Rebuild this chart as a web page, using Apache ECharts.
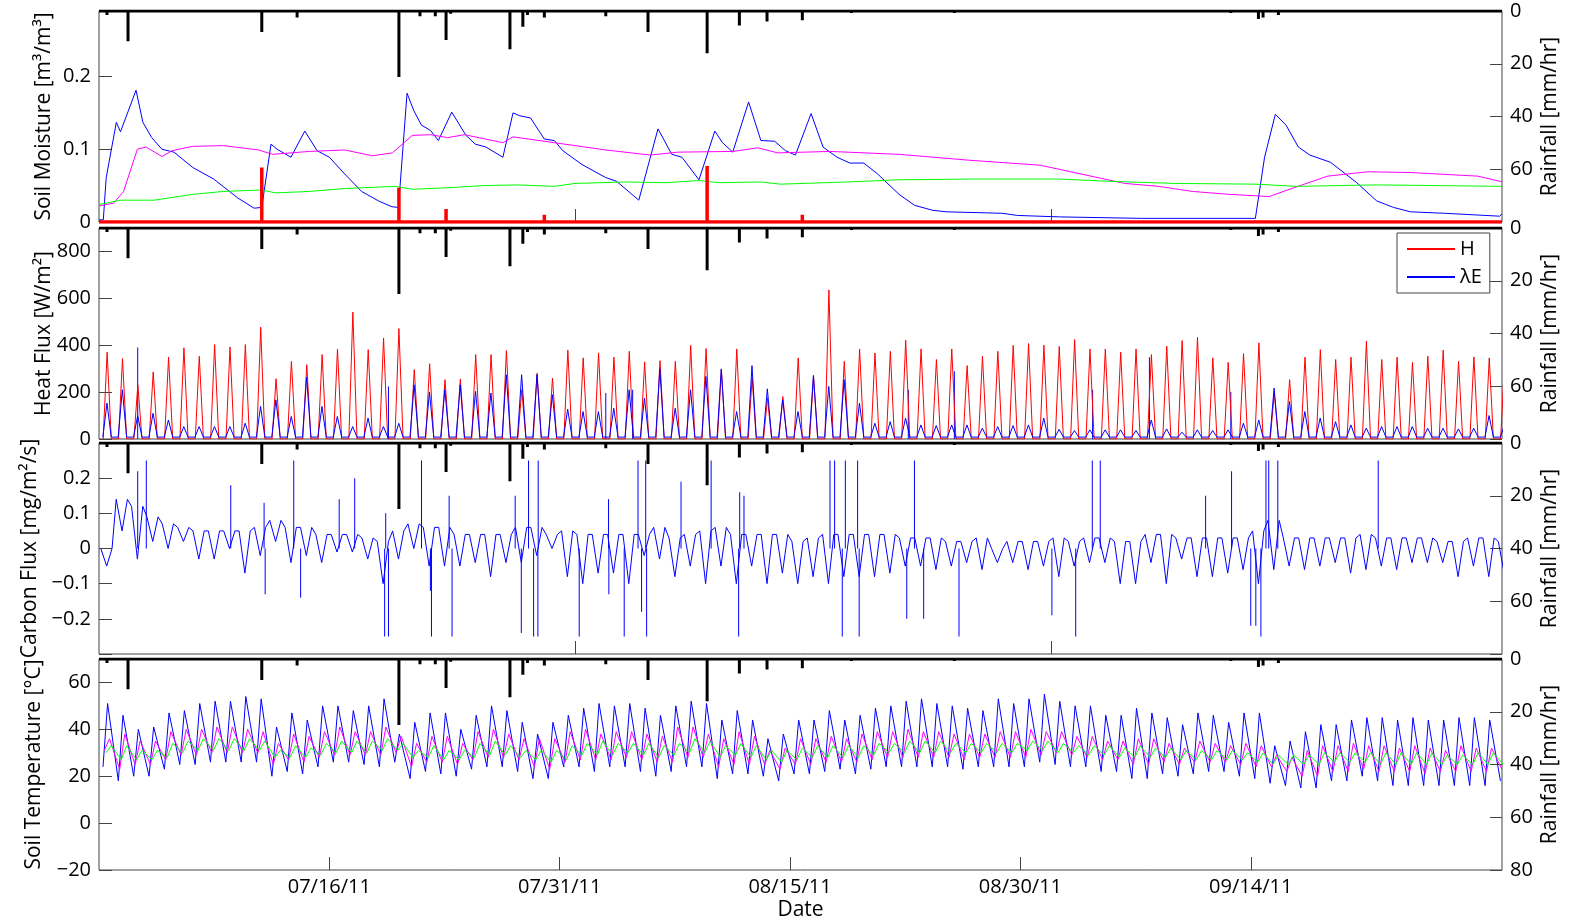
<!DOCTYPE html>
<html>
<head>
<meta charset="utf-8">
<script src="https://cdn.jsdelivr.net/npm/echarts@6/dist/echarts.min.js"></script>
<style>
html, body { margin: 0; padding: 0; background: #fff; }
#main { width: 1569px; height: 924px; }
</style>
</head>
<body>
<div id="main"></div>
<script>
// x values are days counted from 07/01/11 00:00
const X_MAX = 91.36;
const DATE_TICKS = [15, 30, 45, 60, 75];
const MONTH_TICKS = [31, 62];

// rainfall events [day, mm/hr] (drawn from the top, right axis)
const rain = [
  [0.52, 1.5], [1.89, 11.5], [10.6, 8], [12.9, 2.5], [19.53, 25], [20.9, 2], [21.9, 2],
  [22.6, 11], [22.9, 1], [26.76, 14.5], [27.6, 6], [27.9, 1.5], [29.0, 2.5], [33.0, 2],
  [35.75, 8], [39.6, 16], [41.7, 5.5], [43.5, 4], [45.8, 3.5], [49.0, 0.8], [55.7, 0.8],
  [73.7, 0.8], [75.5, 3], [75.8, 2.5], [76.8, 1.5], [83.7, 0.5]
];

// red bars in the soil moisture panel [day, m3/m3]
const irrigation = [
  [10.6, 0.075], [19.53, 0.047], [22.6, 0.018], [29.0, 0.010], [39.6, 0.077], [43.5, 0.002], [45.8, 0.010]
];

// soil moisture [day, m3/m3]
const smBlue = [
  [0, 0.003], [0.28, 0.003], [0.47, 0.061], [1.13, 0.137], [1.4, 0.124], [2.41, 0.181], [2.86, 0.137],
  [3.43, 0.116], [4.1, 0.1], [4.88, 0.096], [6.1, 0.075], [7.47, 0.059], [9.04, 0.033], [10.1, 0.019],
  [10.6, 0.02], [11.2, 0.107], [11.6, 0.1], [12.5, 0.089], [13.4, 0.125], [14.2, 0.098], [15.0, 0.089],
  [16.0, 0.066], [17.1, 0.042], [18.2, 0.029], [19.07, 0.021], [19.5, 0.02], [20.06, 0.177], [20.5, 0.153],
  [21.0, 0.133], [21.58, 0.126], [22.1, 0.112], [22.97, 0.151], [23.9, 0.119], [24.5, 0.107], [25.2, 0.103],
  [26.3, 0.089], [26.96, 0.15], [27.4, 0.146], [28.1, 0.143], [29.0, 0.114], [29.65, 0.112], [30.2, 0.098],
  [31.45, 0.079], [33.0, 0.061], [33.7, 0.056], [35.15, 0.03], [36.4, 0.128], [37.3, 0.093], [37.96, 0.089],
  [39.07, 0.058], [40.1, 0.125], [40.6, 0.109], [41.27, 0.096], [42.3, 0.165], [43.1, 0.112], [44.0, 0.111],
  [44.7, 0.098], [45.35, 0.092], [46.37, 0.149], [47.15, 0.103], [48.06, 0.089], [48.9, 0.081], [49.8, 0.081],
  [50.7, 0.066], [52.1, 0.038], [53.1, 0.023], [54.3, 0.016], [55.2, 0.014], [58.8, 0.012], [59.8, 0.009],
  [62.6, 0.007], [67.9, 0.005], [75.3, 0.005], [75.9, 0.089], [76.6, 0.148], [77.3, 0.133], [78.1, 0.103],
  [78.85, 0.092], [80.2, 0.082], [81.9, 0.054], [83.2, 0.029], [84.3, 0.02], [85.4, 0.014], [87.6, 0.012],
  [91.2, 0.008], [91.36, 0.011]
];
const smMagenta = [
  [0, 0.022], [0.96, 0.026], [1.6, 0.042], [2.5, 0.1], [3.07, 0.103], [4.1, 0.09], [4.76, 0.098], [6.1, 0.104],
  [8.1, 0.105], [10.4, 0.099], [11.3, 0.093], [13.7, 0.097], [16.0, 0.099], [17.8, 0.091], [19.1, 0.095],
  [20.4, 0.119], [21.6, 0.12], [22.7, 0.116], [23.8, 0.12], [26.3, 0.109], [26.96, 0.117], [29.65, 0.109],
  [33, 0.099], [35.9, 0.092], [37.7, 0.096], [41.3, 0.097], [42.9, 0.102], [44.2, 0.095], [47.6, 0.097],
  [52.1, 0.093], [56.6, 0.085], [61.3, 0.078], [64.6, 0.063], [66.8, 0.053], [69, 0.049], [71.2, 0.042],
  [73.6, 0.038], [76.2, 0.035], [77.8, 0.047], [80, 0.063], [82.6, 0.069], [85.4, 0.068], [89.8, 0.063],
  [91.2, 0.056], [91.36, 0.056]
];
const smGreen = [
  [0, 0.024], [1.4, 0.03], [3.6, 0.03], [6.1, 0.038], [8.1, 0.042], [10.6, 0.044], [11.5, 0.04], [13.7, 0.042],
  [16, 0.046], [19.3, 0.049], [20.4, 0.045], [22.7, 0.047], [25, 0.05], [27.2, 0.051], [29.65, 0.049],
  [31, 0.053], [34.2, 0.055], [36.9, 0.054], [39.07, 0.057], [40.4, 0.054], [43.1, 0.055], [44.4, 0.052],
  [48.7, 0.055], [52.1, 0.058], [56.6, 0.059], [62.6, 0.059], [65.7, 0.056], [70.1, 0.053], [75.3, 0.052],
  [78, 0.049], [83.2, 0.051], [91.36, 0.049]
];

// heat flux: daily peak of H and λE [W/m2], one value per day from 07/01
const hPeak = [
  370, 343, 231, 286, 349, 389, 353, 403, 393, 403,
  477, 257, 331, 317, 360, 384, 541, 381, 431, 471,
  296, 321, 253, 256, 360, 360, 377, 210, 281, 260,
  379, 346, 367, 349, 374, 329, 334, 331, 399, 386,
  296, 384, 260, 174, 181, 346, 267, 636, 331, 384,
  367, 374, 421, 384, 339, 384, 313, 353, 374, 399,
  407, 400, 395, 424, 384, 384, 370, 384, 360, 396,
  420, 434, 346, 327, 364, 410, 196, 253, 349, 381,
  339, 349, 417, 339, 349, 327, 353, 379, 331, 350,
  346, 330
];
const lePeak = [
  153, 210, 100, 110, 81, 53, 53, 53, 53, 67,
  139, 167, 96, 263, 139, 96, 53, 89, 53, 67,
  231, 200, 210, 231, 203, 196, 274, 274, 274, 189,
  127, 117, 117, 131, 210, 174, 299, 131, 210, 267,
  299, 117, 313, 214, 167, 117, 271, 224, 253, 153,
  67, 74, 89, 60, 57, 60, 60, 46, 53, 57,
  60, 89, 41, 36, 39, 39, 39, 36, 81, 43,
  29, 39, 36, 39, 67, 81, 217, 160, 117, 89,
  74, 60, 46, 53, 53, 53, 46, 46, 43, 46,
  100, 60
];
const leNight = 8;
const leSpikes = [[2.52, 390], [18.85, 224], [33.0, 196], [34.75, 210], [52.7, 210], [55.7, 289], [64.7, 210], [68.4, 349], [73.7, 200]];

// carbon flux: night level and daytime dip per day [mg/m2/s]
const co2Night = [
  0.00, 0.14, 0.12, 0.09, 0.07, 0.06, 0.05, 0.05, 0.05, 0.05,
  0.06, 0.08, 0.06, 0.06, 0.04, 0.04, 0.04, 0.03, 0.02, 0.05,
  0.07, 0.06, 0.06, 0.04, 0.04, 0.04, 0.04, 0.06, 0.06, 0.04,
  0.05, 0.04, 0.04, 0.04, 0.04, 0.04, 0.06, 0.03, 0.04, 0.05,
  0.06, 0.04, 0.04, 0.04, 0.04, 0.02, 0.03, 0.04, 0.04, 0.04,
  0.04, 0.04, 0.03, 0.03, 0.03, 0.02, 0.02, 0.03, 0.00, 0.02,
  0.02, 0.02, 0.03, 0.02, 0.03, 0.03, 0.02, 0.02, 0.04, 0.04,
  0.03, 0.03, 0.03, 0.03, 0.03, 0.05, 0.08, 0.03, 0.03, 0.03,
  0.03, 0.03, 0.04, 0.03, 0.03, 0.03, 0.03, 0.02, 0.02, 0.03,
  0.03, 0.02
];
const co2Day = [
  -0.05, 0.05, -0.03, 0.02, 0.00, 0.02, -0.03, -0.03, 0.00, -0.07,
  -0.02, 0.02, -0.04, -0.02, -0.04, -0.01, -0.01, -0.03, -0.10, -0.03,
  0.00, -0.05, -0.05, -0.05, -0.04, -0.08, -0.04, -0.04, -0.02, 0.00,
  -0.08, -0.10, -0.07, -0.07, -0.10, -0.02, -0.03, -0.08, -0.05, -0.10,
  -0.05, -0.10, -0.05, -0.10, -0.07, -0.10, -0.08, -0.10, -0.08, -0.08,
  -0.08, -0.07, -0.05, -0.05, -0.06, -0.05, -0.04, -0.06, -0.04, -0.04,
  -0.06, -0.05, -0.08, -0.05, -0.04, -0.04, -0.10, -0.10, -0.04, -0.10,
  -0.03, -0.08, -0.08, -0.07, -0.06, -0.10, -0.06, -0.05, -0.06, -0.05,
  -0.04, -0.07, -0.06, -0.05, -0.06, -0.04, -0.04, -0.04, -0.08, -0.05,
  -0.08, -0.07
];
const co2Spikes = [
  [2.52, 0.22], [3.08, 0.25], [8.58, 0.18], [10.75, 0.13], [10.82, -0.13], [12.68, 0.25], [13.13, -0.14],
  [15.64, 0.14], [16.65, 0.2], [18.6, -0.25], [18.67, 0.1], [18.85, -0.25], [21.0, 0.25], [21.58, -0.12],
  [21.65, -0.25], [22.8, 0.15], [22.99, -0.25], [27.1, 0.15], [27.5, -0.24], [27.97, 0.25], [28.3, -0.25],
  [28.58, -0.25], [28.6, 0.25], [31.27, -0.25], [33.18, 0.14], [33.2, -0.13], [34.2, -0.25], [35.1, 0.25],
  [35.33, -0.18], [35.6, 0.25], [35.66, -0.25], [37.9, 0.19], [39.86, 0.25], [41.65, -0.25], [41.72, 0.16],
  [42.0, 0.15], [47.6, 0.25], [47.9, 0.25], [48.4, -0.25], [48.6, 0.25], [49.4, 0.25], [49.5, -0.25],
  [52.6, -0.2], [53.1, 0.25], [53.7, -0.2], [56.0, -0.25], [62.05, -0.19], [63.6, -0.25], [64.68, 0.25],
  [65.2, 0.25], [72.06, 0.15], [73.75, 0.22], [75.0, -0.22], [75.33, -0.22], [75.66, -0.25], [75.99, 0.25],
  [76.17, 0.25], [76.76, 0.25], [83.3, 0.25]
];

// soil temperature: daily max / min per day [°C]
const tBlueMax = [
  51, 46, 40, 41, 47, 48, 51, 52, 52, 54, 53, 41, 47, 44, 50, 50, 48, 50, 53, 38,
  43, 47, 47, 40, 46, 50, 48, 43, 38, 43, 46, 49, 51, 50, 51, 49, 46, 50, 52, 51,
  44, 48, 44, 36, 38, 44, 44, 48, 44, 46, 49, 50, 52, 53, 51, 50, 49, 48, 53, 51,
  53, 55, 52, 50, 50, 46, 46, 49, 47, 45, 42, 47, 46, 43, 47, 47, 33, 35, 39, 42,
  42, 44, 45, 45, 44, 45, 44, 44, 45, 45, 44
];
const tBlueMin = [
  24, 18, 20, 20, 23, 25, 25, 26, 26, 26, 26, 20, 22, 21, 24, 26, 26, 25, 24, 26,
  19, 22, 21, 20, 23, 24, 24, 22, 19, 19, 24, 24, 22, 24, 24, 22, 20, 22, 24, 24,
  19, 21, 21, 20, 18, 21, 21, 22, 23, 21, 23, 24, 24, 24, 24, 24, 23, 24, 24, 24,
  24, 26, 25, 24, 24, 22, 22, 19, 19, 21, 20, 21, 22, 22, 20, 19, 17, 16, 15, 15,
  18, 18, 20, 18, 16, 16, 16, 16, 16, 16, 16, 18
];
const tMagMax = [
  36, 38, 35, 35, 39, 40, 40, 41, 41, 40, 39, 34, 38, 37, 39, 41, 39, 39, 41, 37,
  34, 37, 37, 34, 39, 40, 38, 36, 36, 36, 39, 40, 38, 39, 39, 38, 37, 41, 41, 38,
  36, 39, 37, 31, 32, 36, 36, 37, 36, 38, 39, 39, 40, 39, 39, 38, 38, 38, 39, 39,
  40, 39, 39, 37, 37, 35, 35, 36, 36, 34, 32, 35, 34, 33, 34, 33, 29, 28, 31, 33,
  33, 34, 33, 33, 32, 33, 32, 31, 33, 32, 32
];
const tMagMin = [
  31, 23, 25, 25, 27, 29, 29, 30, 30, 30, 30, 25, 27, 26, 28, 29, 29, 29, 29, 30,
  24, 26, 26, 25, 27, 28, 28, 27, 24, 23, 26, 27, 27, 27, 28, 27, 26, 26, 28, 28,
  24, 25, 25, 25, 23, 25, 25, 26, 26, 26, 27, 28, 28, 28, 28, 28, 27, 28, 28, 28,
  28, 29, 30, 29, 28, 27, 27, 25, 25, 26, 25, 26, 26, 26, 25, 24, 24, 22, 20, 20,
  22, 22, 23, 22, 22, 22, 21, 22, 22, 22, 22, 23
];
const tGreenMax = [
  33, 33, 31, 31, 34, 35, 36, 36, 36, 36, 35, 31, 33, 32, 34, 35, 35, 35, 36, 34,
  31, 33, 31, 31, 34, 35, 33, 31, 31, 31, 33, 34, 35, 34, 34, 34, 33, 34, 36, 35,
  33, 34, 33, 31, 31, 32, 33, 33, 33, 33, 34, 34, 35, 35, 35, 34, 34, 34, 34, 34,
  35, 35, 34, 33, 33, 33, 32, 33, 32, 32, 31, 31, 31, 31, 30, 30, 29, 29, 29, 30,
  30, 30, 30, 30, 30, 30, 30, 29, 29, 30, 30
];
const tGreenMin = [
  30, 27, 27, 27, 28, 30, 31, 31, 31, 31, 31, 28, 28, 28, 29, 30, 30, 30, 31, 31,
  28, 28, 27, 27, 28, 29, 29, 28, 27, 26, 27, 29, 29, 29, 30, 29, 28, 29, 30, 30,
  28, 29, 28, 27, 26, 27, 28, 28, 28, 28, 29, 30, 30, 30, 30, 30, 30, 30, 30, 30,
  31, 31, 30, 30, 29, 29, 28, 28, 28, 28, 27, 27, 27, 27, 27, 26, 25, 25, 25, 25,
  26, 26, 26, 25, 25, 25, 25, 25, 25, 25, 25, 25
];

const FONT = '"Open Sans", "DejaVu Sans", sans-serif';
const TOPS = [11, 228, 443, 659];
const PANEL_H = 211;

// events drawn as vertical strokes from the axis baseline
function strokes(events) {
  const out = [[0, 0]];
  events.forEach(([t, v]) => { out.push([t, 0], [t, v], [t, 0]); });
  out.push([X_MAX, 0]);
  return out;
}
function dailyPeaks(peaks, base, tUp, tPk, tDn) {
  const out = [];
  peaks.forEach((p, d) => { out.push([d + tUp, base], [d + tPk, p], [d + tDn, base]); });
  return out;
}
function minMax(mins, maxs, tMin, tMax) {
  const out = [];
  mins.forEach((m, d) => {
    out.push([d + tMin, m]);
    if (d < maxs.length) out.push([d + tMax, maxs[d]]);
  });
  return out;
}
function carbon() {
  const out = [];
  co2Night.forEach((n, d) => {
    out.push([d + 0.12, n], [d + 0.5, co2Day[d]], [d + 0.85, n]);
  });
  return out;
}
function fmtDate(v) {
  const d = new Date(2011, 6, 1 + Math.round(v));
  const mm = String(d.getMonth() + 1).padStart(2, '0');
  const dd = String(d.getDate()).padStart(2, '0');
  return mm + '/' + dd + '/11';
}
function numLabel(v, digits, lo, hi) {
  if (v < lo - 1e-9 || v > hi + 1e-9) return '';
  const r = Math.round(v * 1000) / 1000;
  if (r === 0) return '0';
  return (r < 0 ? '\u2212' : '') + Math.abs(r).toFixed(digits);
}

const leftSpecs = [
  { min: 0, max: 0.29, interval: 0.1, name: 'Soil Moisture [m\u00b3/m\u00b3]', gap: 44, digits: 1, lo: 0, hi: 0.2 },
  { min: 0, max: 900, interval: 200, name: 'Heat Flux [W/m\u00b2]', gap: 44, digits: 0, lo: 0, hi: 800 },
  { min: -0.3, max: 0.3, interval: 0.1, name: 'Carbon Flux [mg/m\u00b2/s]', gap: 58, digits: 1, lo: -0.2, hi: 0.2 },
  { min: -20, max: 70, interval: 20, name: 'Soil Temperature [\u00b0C]', gap: 54, digits: 0, lo: -20, hi: 60 }
];

const nameStyle = { fontSize: 21, color: '#000', fontFamily: FONT };
const labelStyle = { fontSize: 20, color: '#000', fontFamily: FONT };
const tickStyle = { color: '#444', width: 1 };

const grid = TOPS.map(t => ({
  left: 99, right: 67, top: t, height: PANEL_H,
  show: true, borderColor: '#444', borderWidth: 1, backgroundColor: 'transparent',
  containLabel: false, outerBoundsMode: 'none'
}));

const xAxis = TOPS.map((t, i) => ({
  type: 'value', gridIndex: i, min: 0, max: X_MAX, position: 'bottom',
  axisLine: { show: false, onZero: false },
  splitLine: { show: false },
  axisTick: i === 1 ? { show: false } : {
    show: true, inside: true, length: 13, lineStyle: tickStyle,
    customValues: i === 3 ? DATE_TICKS : MONTH_TICKS
  },
  axisLabel: i === 3 ? {
    show: true, customValues: DATE_TICKS, margin: 7,
    formatter: v => DATE_TICKS.indexOf(Math.round(v)) >= 0 ? fmtDate(v) : '',
    ...labelStyle
  } : { show: false },
  name: i === 3 ? 'Date' : '', nameLocation: 'middle', nameGap: 30,
  nameTextStyle: nameStyle, nameMoveOverlap: false
}));

const yAxis = [];
leftSpecs.forEach((s, i) => {
  yAxis.push({
    type: 'value', gridIndex: i, position: 'left', min: s.min, max: s.max, interval: s.interval,
    axisLine: { show: false, onZero: false }, splitLine: { show: false },
    axisTick: { show: true, inside: true, length: 13, lineStyle: tickStyle },
    axisLabel: { margin: 8, formatter: v => numLabel(v, s.digits, s.lo, s.hi), ...labelStyle },
    name: s.name, nameLocation: 'middle', nameRotate: 90, nameGap: s.gap,
    nameTextStyle: nameStyle, nameMoveOverlap: false
  });
  yAxis.push({
    type: 'value', gridIndex: i, position: 'right', min: 0, max: 80, interval: 20, inverse: true,
    axisLine: { show: false, onZero: false }, splitLine: { show: false },
    axisTick: { show: true, inside: true, length: 12, lineStyle: tickStyle },
    axisLabel: { margin: 8, formatter: v => numLabel(v, 0, 0, i === 3 ? 80 : 60), ...labelStyle },
    name: 'Rainfall [mm/hr]', nameLocation: 'middle', nameRotate: 90, nameGap: 38,
    nameTextStyle: nameStyle, nameMoveOverlap: false
  });
});

function line(name, data, color, gi, yi, width) {
  return {
    name: name, type: 'line', xAxisIndex: gi, yAxisIndex: yi, data: data,
    showSymbol: false, symbol: 'none', smooth: false, clip: true,
    lineStyle: { color: color, width: width || 1 }, itemStyle: { color: color },
    emphasis: { disabled: true }, silent: true
  };
}
function spikes(name, data, color, gi, yi) {
  return {
    name: name, type: 'bar', xAxisIndex: gi, yAxisIndex: yi, data: data,
    barWidth: 1, barGap: '-100%', itemStyle: { color: color }, silent: true
  };
}

const series = [
  // soil moisture
  line('sm1', smBlue, '#0000ff', 0, 0),
  line('sm2', smMagenta, '#ff00ff', 0, 0),
  line('sm3', smGreen, '#00ff00', 0, 0),
  line('irr', strokes(irrigation), '#ff0000', 0, 0, 3.5),
  line('rain0', strokes(rain), '#000000', 0, 1, 3),
  // heat flux
  line('H', dailyPeaks(hPeak, 0, 0.27, 0.53, 0.80), '#ff0000', 1, 2),
  line('\u03bbE', dailyPeaks(lePeak, leNight, 0.25, 0.52, 0.80), '#0000ff', 1, 2),
  spikes('leSpk', leSpikes, '#0000ff', 1, 2),
  line('rain1', strokes(rain), '#000000', 1, 3, 3),
  // carbon flux
  line('co2', carbon(), '#0000ff', 2, 4),
  spikes('co2Spk', co2Spikes, '#0000ff', 2, 4),
  line('rain2', strokes(rain), '#000000', 2, 5, 3),
  // soil temperature
  line('t1', minMax(tBlueMin, tBlueMax, 0.26, 0.56), '#0000ff', 3, 6),
  line('t2', minMax(tMagMin, tMagMax, 0.35, 0.68), '#ff00ff', 3, 6),
  line('t3', minMax(tGreenMin, tGreenMax, 0.45, 0.80), '#00ff00', 3, 6),
  line('rain3', strokes(rain), '#000000', 3, 7, 3)
];

const chart = echarts.init(document.getElementById('main'));
chart.setOption({
  animation: false,
  backgroundColor: '#ffffff',
  textStyle: { fontFamily: FONT },
  grid: grid,
  xAxis: xAxis,
  yAxis: yAxis,
  legend: {
    data: ['H', '\u03bbE'], orient: 'vertical', left: 1397, top: 233,
    backgroundColor: '#ffffff', borderColor: '#444', borderWidth: 1, borderRadius: 0,
    padding: [6, 8, 6, 10], itemWidth: 48, itemHeight: 2, itemGap: 8, icon: 'rect',
    textStyle: { fontSize: 20, color: '#000', fontFamily: FONT },
    selectedMode: false
  },
  series: series
});
</script>
</body>
</html>
